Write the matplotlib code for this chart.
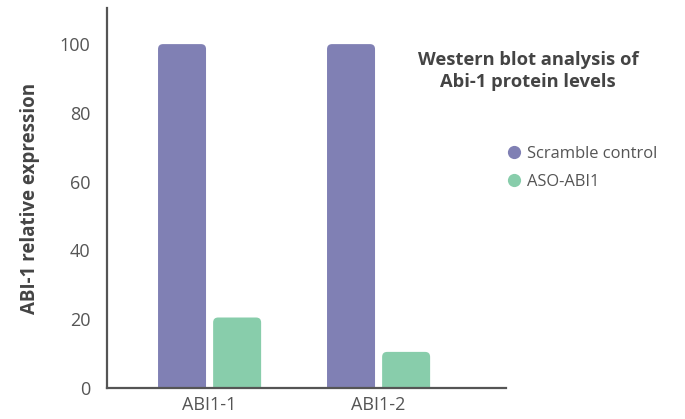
import matplotlib
matplotlib.use("Agg")
import matplotlib.pyplot as plt
from matplotlib.patches import FancyBboxPatch
from matplotlib.lines import Line2D

categories = ["ABI1-1", "ABI1-2"]
scramble = [100, 100]
aso = [20.5, 10.5]
series_names = ["Scramble control", "ASO-ABI1"]
colors = ["#8080b4", "#88cdab"]

plt.rcParams['font.family'] = ['Open Sans', 'DejaVu Sans']

fig = plt.figure(figsize=(6.85, 4.19), dpi=100)
ax = fig.add_axes([107/685, 1 - 388/419, (506-107)/685, (388-8)/419])
ax.set_xlim(-0.607, 1.754)
ax.set_ylim(0, 110.5)

width = 0.284
offset = 0.163
# px per data unit for rounding corners
px_x = 399 / (1.754 + 0.607)
px_y = 380 / 110.5
r = 5 / px_x
for i, (s, a) in enumerate(zip(scramble, aso)):
    for x, h, c in [(i - offset, s, colors[0]), (i + offset, a, colors[1])]:
        p = FancyBboxPatch((x - width/2, -5), width, h + 5,
                           boxstyle=f"round,pad=0,rounding_size={r}",
                           mutation_aspect=px_x/px_y,
                           facecolor=c, edgecolor='none', clip_on=True)
        ax.add_patch(p)

for side in ['top', 'right']:
    ax.spines[side].set_visible(False)
for side in ['left', 'bottom']:
    ax.spines[side].set_color('#555555')
    ax.spines[side].set_linewidth(1.6)

ax.set_xticks([0, 1])
ax.set_xticklabels(categories)
ax.set_yticks([0, 20, 40, 60, 80, 100])
ax.tick_params(length=0, labelsize=13, labelcolor='#555555')
ax.tick_params(axis='y', pad=12)
ax.tick_params(axis='x', pad=6)
ax.set_ylabel("ABI-1 relative expression", fontsize=13.5, fontweight='bold',
              color='#444444', labelpad=14)

fig.text(528/685, 1 - 71/419, "Western blot analysis of\nAbi-1 protein levels",
         ha='center', va='center', fontsize=13.2, fontweight='bold',
         color='#444444', linespacing=1.3)

handles = [Line2D([], [], marker='o', linestyle='none', markersize=9.5,
                  markerfacecolor=c, markeredgecolor='none') for c in colors]
fig.legend(handles, series_names, loc='upper left',
           bbox_to_anchor=(489/685, 1 - 131/419), frameon=False,
           fontsize=11.9, labelcolor='#555555', handletextpad=0.2,
           labelspacing=0.75, handlelength=1.2)

fig.savefig("out.png", dpi=100)
